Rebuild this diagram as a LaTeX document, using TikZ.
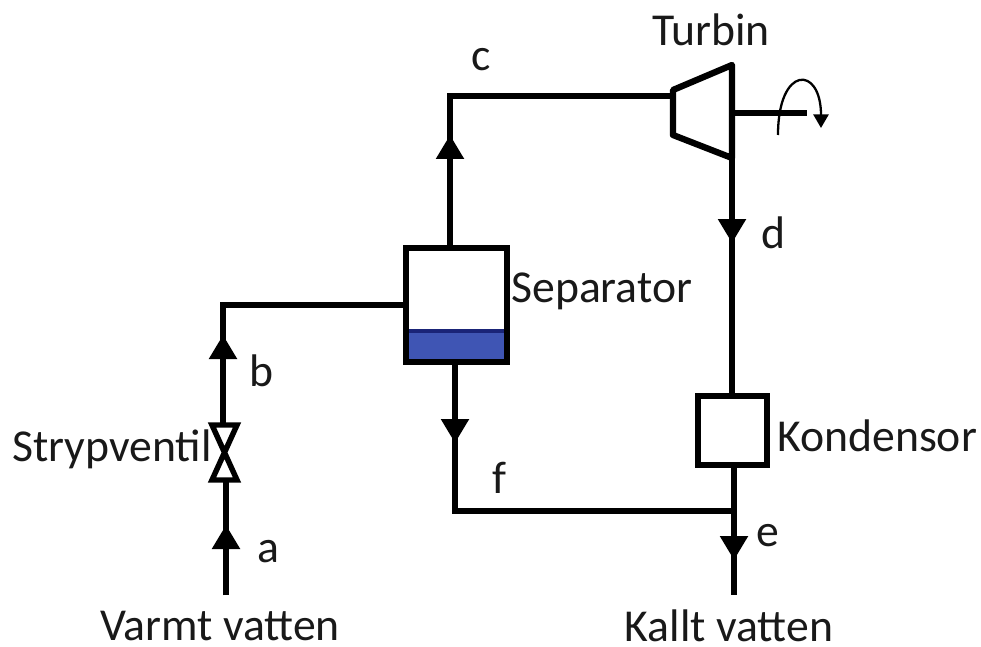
\documentclass[tikz,border=0pt]{standalone}
\usepackage{fontspec}
\setmainfont{Carlito}
\usetikzlibrary{arrows.meta}
\definecolor{liquid}{HTML}{3F55B4}
\definecolor{liquidtop}{HTML}{1A2478}
\tikzset{
  pipe/.style={line width=3.1pt},
  flow/.style={pipe,-{Triangle[width=0.54cm,length=0.48cm]}},
  vessel/.style={draw,line width=3.4pt,rectangle,outer sep=0pt,inner sep=0pt},
  lbl/.style={font=\fontsize{26pt}{28pt}\selectfont,inner sep=0pt,text=black!90},
}
\begin{document}
\begin{tikzpicture}
  \useasboundingbox (0,0) rectangle (19.62,12.92);
  % liquid level
  \fill[liquid] (8.12,5.68) rectangle (10.14,6.32);
  \draw[liquidtop,line width=1.8pt] (8.12,6.30) -- (10.14,6.30);
  \node[vessel,minimum width=2.02cm,minimum height=2.28cm] (sep) at (9.13,6.82) {};
  \node[vessel,minimum width=1.38cm,minimum height=1.38cm] (kond) at (14.65,4.31) {};
  % hot side
  \coordinate (in) at (4.52,1.02);
  \coordinate (tipa) at (4.52,2.42);
  \coordinate (vbot) at (4.52,3.30);
  \coordinate (vtop) at (4.46,4.44);
  \coordinate (tipb) at (4.46,6.22);
  \draw[pipe] (in) -- (vbot);
  \draw[flow] (in) -- (tipa);
  \draw[pipe] (vtop) |- (sep.west);
  \draw[flow] (vtop) -- (tipb);
  \draw[pipe,line join=miter] (4.24,3.32) -- (4.74,3.32) -- (4.24,4.42) -- (4.74,4.42) -- cycle;
  % steam to turbine
  \coordinate (cc) at (9.0,11.0);
  \coordinate (tipc) at (9.0,10.22);
  \coordinate (tin) at (13.46,11.0);
  \draw[pipe] (cc |- sep.north) |- (tin);
  \draw[flow] (cc |- sep.north) -- (tipc);
  \draw[line width=3.6pt,line join=round] (13.46,11.12) -- (14.64,11.62) -- (14.64,9.76) -- (13.46,10.22) -- cycle;
  \draw[pipe] (14.70,10.66) -- (16.14,10.66);
  \draw[line width=1.3pt,-{Triangle[width=0.3cm,length=0.27cm]}] (15.56,10.22) .. controls (15.56,11.62) and (16.42,11.62) .. (16.42,10.36);
  % down to condenser
  \coordinate (tipd) at (14.64,8.06);
  \draw[pipe] (14.64,9.76) -- (tipd |- kond.north);
  \draw[flow] (14.64,9.76) -- (tipd);
  \coordinate (join) at (14.68,2.70);
  \coordinate (tipe) at (14.68,1.72);
  \coordinate (out) at (14.68,1.02);
  \draw[pipe] (join |- kond.south) -- (out);
  \draw[flow] (join) -- (tipe);
  % liquid from separator
  \coordinate (ff) at (9.1,2.70);
  \coordinate (tipf) at (9.1,4.06);
  \draw[pipe] (ff |- sep.south) -- (ff) -- ([xshift=1.5pt]join);
  \draw[flow] (ff |- sep.south) -- (tipf);
  % labels
  \node[lbl] (lturb) at (14.22,12.32) {Turbin};
  \node[lbl] (lsep) [anchor=west] at (10.22,7.10) {Separator};
  \node[lbl] (lkond) [anchor=west] at (15.54,4.20) {Kondensor};
  \node[lbl] (lvalve) [anchor=west] at (0.24,3.94) {Strypventil};
  \node[lbl] (lhot) at (4.40,0.40) {Varmt vatten};
  \node[lbl] (lcold) at (14.58,0.40) {Kallt vatten};
  \node[lbl] (la) at (5.36,1.88) {a};
  \node[lbl] (lb) at (5.22,5.50) {b};
  \node[lbl] (lc) at (9.62,11.72) {c};
  \node[lbl] (ld) at (15.46,8.26) {d};
  \node[lbl] (le) at (15.36,2.20) {e};
  \node[lbl] (lf) at (9.98,3.36) {f};
\end{tikzpicture}
\end{document}
